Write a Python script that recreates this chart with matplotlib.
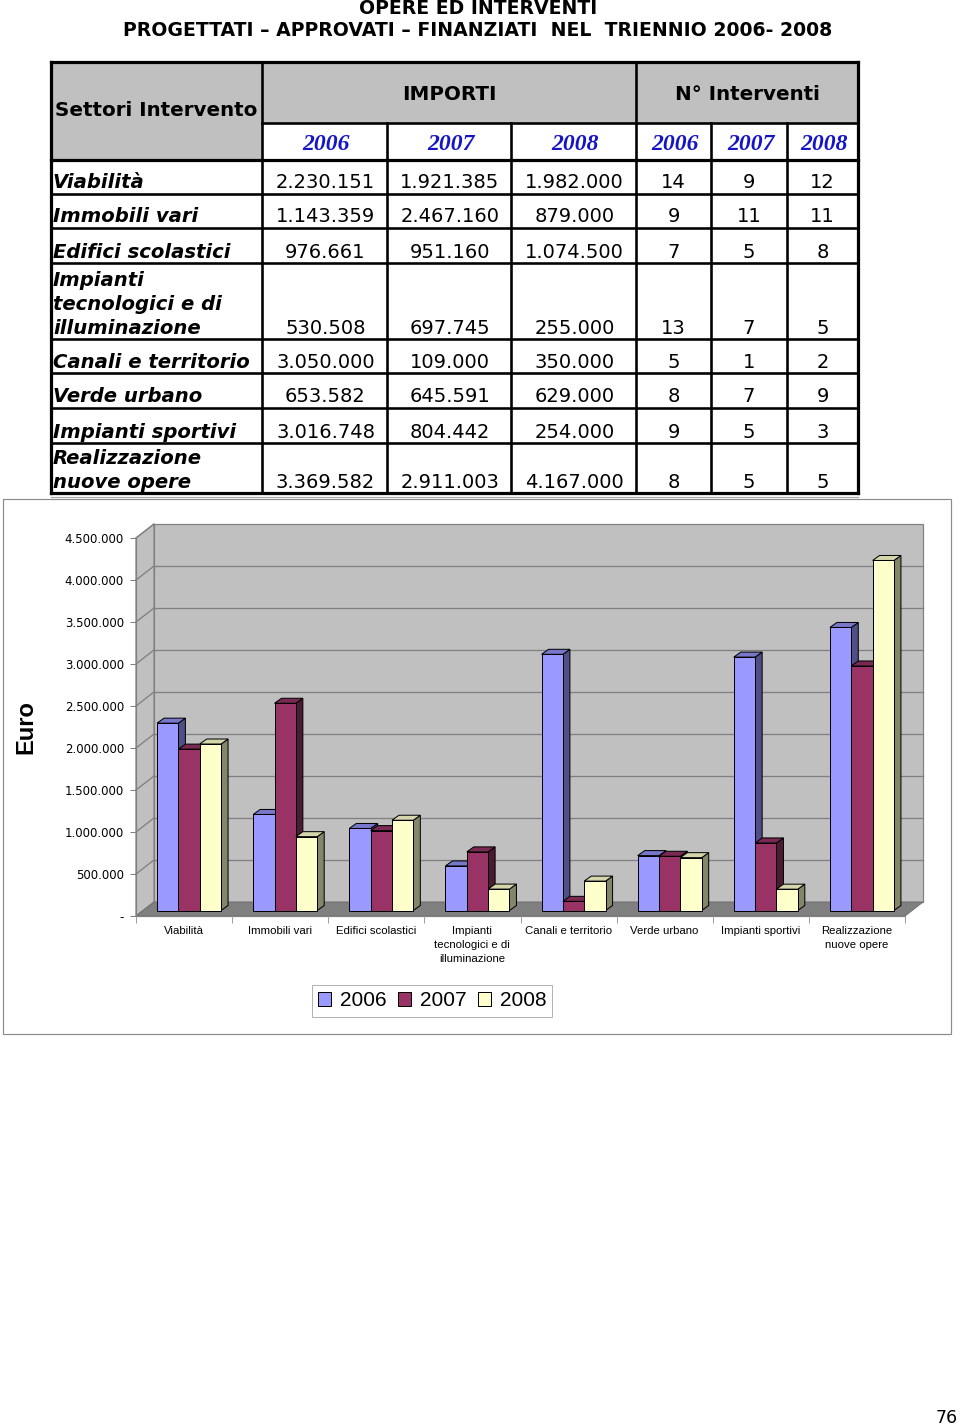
import matplotlib
matplotlib.use("Agg")
import matplotlib.pyplot as plt
from matplotlib.patches import Rectangle, Polygon, Patch
import numpy as np

# ---------------- data ----------------
table_labels = ["Viabilità", "Immobili vari", "Edifici scolastici",
                "Impianti\ntecnologici e di\nilluminazione", "Canali e territorio",
                "Verde urbano", "Impianti sportivi", "Realizzazione\nnuove opere"]
chart_labels = ["Viabilità", "Immobili vari", "Edifici scolastici",
                "Impianti\ntecnologici e di\nilluminazione", "Canali e territorio",
                "Verde urbano", "Impianti sportivi", "Realizzazione\nnuove opere"]
years = ["2006", "2007", "2008"]
importi_2006 = [2230151, 1143359, 976661, 530508, 3050000, 653582, 3016748, 3369582]
importi_2007 = [1921385, 2467160, 951160, 697745, 109000, 645591, 804442, 2911003]
importi_2008 = [1982000, 879000, 1074500, 255000, 350000, 629000, 254000, 4167000]
interventi_2006 = [14, 9, 7, 13, 5, 8, 9, 8]
interventi_2007 = [9, 11, 5, 7, 1, 7, 5, 5]
interventi_2008 = [12, 11, 8, 5, 2, 9, 3, 5]
y_ticks = [0, 500000, 1000000, 1500000, 2000000, 2500000, 3000000, 3500000, 4000000, 4500000]
y_tick_labels = ["-", "500.000", "1.000.000", "1.500.000", "2.000.000", "2.500.000",
                 "3.000.000", "3.500.000", "4.000.000", "4.500.000"]
title_lines = ["OPERE ED INTERVENTI",
               "PROGETTATI – APPROVATI – FINANZIATI  NEL  TRIENNIO 2006- 2008"]
page_number = "76"

importi = [importi_2006, importi_2007, importi_2008]
interventi = [interventi_2006, interventi_2007, interventi_2008]


def fmt(v):
    return f"{v:,}".replace(",", ".")


W, H = 960, 1427
fig = plt.figure(figsize=(W / 100, H / 100), dpi=100)
PX = 0.72  # points per pixel

# ---------------- page overlay (pixel coords) ----------------
page = fig.add_axes([0, 0, 1, 1])
page.set_xlim(0, W)
page.set_ylim(H, 0)
page.axis("off")
page.set_zorder(0)

VER = "DejaVu Sans"
ARI = "Liberation Sans"
TIM = "Liberation Serif"

page.text(478, 9, title_lines[0], ha="center", va="center", family=VER,
          fontweight="bold", fontsize=13.6)
page.text(478, 30, title_lines[1], ha="center", va="center", family=VER,
          fontweight="bold", fontsize=13.6)

# table geometry
cols = [51, 262, 387, 511, 636, 711, 787, 858]
row_bottoms = [194, 228, 263, 339, 373, 408, 443, 493]
top, hmid, hbot = 62, 123, 160

# header fill
page.add_patch(Rectangle((51, top), 211, hbot - top, facecolor="#c0c0c0", edgecolor="none"))
page.add_patch(Rectangle((262, top), 596, hmid - top, facecolor="#c0c0c0", edgecolor="none"))

lw = 2.6 * PX
blw = 3.2 * PX
# horizontal lines
page.plot([51, 858], [top, top], color="black", lw=blw, solid_capstyle="projecting")
page.plot([262, 858], [hmid, hmid], color="black", lw=lw)
page.plot([51, 858], [hbot, hbot], color="black", lw=blw)
for yb in row_bottoms[:-1]:
    page.plot([51, 858], [yb, yb], color="black", lw=lw)
page.plot([51, 858], [row_bottoms[-1], row_bottoms[-1]], color="black", lw=blw,
          solid_capstyle="projecting")
# vertical lines
for i, x in enumerate(cols):
    y0 = top if x in (51, 262, 636, 858) else hmid
    page.plot([x, x], [y0, row_bottoms[-1]], color="black",
              lw=blw if x in (51, 858) else lw, solid_capstyle="projecting")

page.plot([51, 858], [497, 497], color="#a8a8a8", lw=1.2 * PX)

# header text
page.text(55, 110, "Settori Intervento", ha="left", va="center", family=VER,
          fontweight="bold", fontsize=14.3)
page.text((262 + 636) / 2, 95, "IMPORTI", ha="center", va="center", family=VER,
          fontweight="bold", fontsize=14.3)
page.text((636 + 858) / 2, 95, "N° Interventi", ha="center", va="center", family=VER,
          fontweight="bold", fontsize=14.3)
for k in range(6):
    cx = (cols[k + 1] + cols[k + 2]) / 2
    page.text(cx + 2, 144, years[k % 3], ha="center", va="center", family=TIM,
              style="italic", fontweight="bold", fontsize=17, color="#1414c8")

# data rows
for r in range(8):
    base = row_bottoms[r] - 5.5
    lines = table_labels[r].split("\n")
    for li, line in enumerate(lines):
        page.text(53, base - 24 * (len(lines) - 1 - li), line, ha="left", va="baseline",
                  family=VER, fontweight="bold", style="italic", fontsize=14.1)
    for s in range(3):
        cx = (cols[1 + s] + cols[2 + s]) / 2
        page.text(cx + 1, base, fmt(importi[s][r]), ha="center", va="baseline",
                  family=VER, fontsize=14)
    for s in range(3):
        cx = (cols[4 + s] + cols[5 + s]) / 2
        page.text(cx, base, str(interventi[s][r]), ha="center", va="baseline",
                  family=VER, fontsize=14)

# chart frame
page.add_patch(Rectangle((3, 499), 948, 535, facecolor="none", edgecolor="#8c8c8c",
                         lw=1.2 * PX))

page.text(958, 1423, page_number, ha="right", va="baseline", family=VER, fontsize=12.5)

# ---------------- chart ----------------
x_left, x_right, y_top, y_bot = 136, 923, 524, 916
ax = fig.add_axes([x_left / W, 1 - y_bot / H, (x_right - x_left) / W, (y_bot - y_top) / H])
ax.set_zorder(2)
ax.patch.set_visible(False)

n = len(chart_labels)
px_per_cat = (905 - 136) / n
px_per_val = (916 - 538) / 4500000
DX = 18 / px_per_cat
DY = 14 / px_per_val
ax.set_xlim(0, n + DX)
ax.set_ylim(0, 4500000 + DY)

wall_c = "#c0c0c0"
grid_c = "#808080"
ymax = y_ticks[-1]
# back wall
ax.add_patch(Rectangle((DX, DY), n, ymax, facecolor=wall_c, edgecolor=grid_c,
                       lw=1.2 * PX, zorder=0.5, clip_on=False))
# left wall
ax.add_patch(Polygon([(0, 0), (DX, DY), (DX, ymax + DY), (0, ymax)], closed=True,
                     facecolor=wall_c, edgecolor=grid_c, lw=1.2 * PX, zorder=0.5,
                     clip_on=False))
# floor
ax.add_patch(Polygon([(0, 0), (n, 0), (n + DX, DY), (DX, DY)], closed=True,
                     facecolor="#808080", edgecolor="#707070", lw=1.0 * PX, zorder=0.7,
                     clip_on=False))
for v in y_ticks[1:-1]:
    ax.plot([DX, n + DX], [v + DY, v + DY], color=grid_c, lw=1.3 * PX, zorder=0.6,
            clip_on=False)
for v in y_ticks[1:]:
    ax.plot([0, DX], [v, v + DY], color=grid_c, lw=1.3 * PX, zorder=0.6, clip_on=False)

front_c = ["#9999ff", "#993366", "#ffffcc"]
side_c = ["#4f4f85", "#4d1a33", "#858569"]
top_c = ["#7777cc", "#7a2952", "#d6d6ac"]

bw = 0.222
ox = 5 / px_per_cat
oy = 5.5 / px_per_val
ddx = 7 / px_per_cat
ddy = 5 / px_per_val
z = 2
for i in range(n):
    for s in range(3):
        v = importi[s][i]
        x0 = i + 0.5 + (s - 1.5) * bw + ox
        y0 = oy
        ax.add_patch(Polygon([(x0 + bw, y0), (x0 + bw + ddx, y0 + ddy),
                              (x0 + bw + ddx, y0 + v + ddy), (x0 + bw, y0 + v)],
                             closed=True, facecolor=side_c[s], edgecolor="black",
                             lw=1.0 * PX, zorder=z, clip_on=False))
        ax.add_patch(Polygon([(x0, y0 + v), (x0 + bw, y0 + v), (x0 + bw + ddx, y0 + v + ddy),
                              (x0 + ddx, y0 + v + ddy)], closed=True, facecolor=top_c[s],
                             edgecolor="black", lw=1.0 * PX, zorder=z, clip_on=False))
        ax.add_patch(Rectangle((x0, y0), bw, v, facecolor=front_c[s], edgecolor="black",
                               lw=1.0 * PX, zorder=z + 0.1, clip_on=False))
        z += 0.2

for side in ("top", "right"):
    ax.spines[side].set_visible(False)
ax.spines["left"].set_bounds(0, ymax)
ax.spines["bottom"].set_bounds(0, n)
for side in ("left", "bottom"):
    ax.spines[side].set_color(grid_c)
    ax.spines[side].set_linewidth(1.2 * PX)
    ax.spines[side].set_zorder(0.8)

ax.set_yticks(y_ticks, y_tick_labels)
ax.tick_params(axis="y", length=6 * PX, width=1.0 * PX, color=grid_c, pad=6 * PX,
               labelsize=8.5)
for t in ax.get_yticklabels():
    t.set_family(VER)

ax.set_xticks(np.arange(n) + 0.5, chart_labels)
ax.set_xticks(np.arange(n + 1), minor=True)
ax.tick_params(axis="x", which="major", length=0, pad=9.5 * PX, labelsize=8.2)
ax.tick_params(axis="x", which="minor", length=7 * PX, width=1.0 * PX, color="#a0a0a0")
for t in ax.get_xticklabels():
    t.set_family(ARI)
    t.set_linespacing(1.55)

fig.text(26 / W, 1 - 727 / H, "Euro", rotation=90, ha="center", va="center",
         family=ARI, fontweight="bold", fontsize=17)

handles = [Patch(facecolor=front_c[s], edgecolor="black", lw=1.0 * PX, label=years[s])
           for s in range(3)]
leg = fig.legend(handles=handles, ncol=3, loc="center",
                 bbox_to_anchor=(432 / W, 1 - 1001 / H),
                 prop={"family": ARI, "size": 15}, frameon=True, fancybox=False,
                 edgecolor="#a0a0a0", handlelength=0.65, handleheight=0.65,
                 handletextpad=0.4, columnspacing=0.55, borderpad=0.3, borderaxespad=0)
leg.get_frame().set_linewidth(1.0 * PX)

fig.savefig("out.png", dpi=100)
